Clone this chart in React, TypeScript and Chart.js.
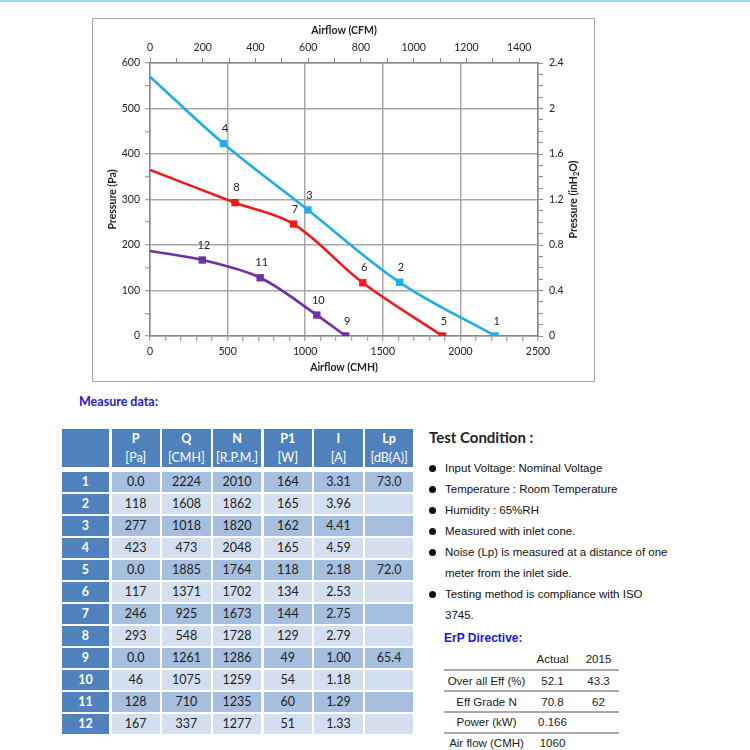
import React, { useEffect, useRef } from 'react';
import { Chart, registerables } from 'chart.js';

Chart.register(...registerables);

// ---------------- Data ----------------
const pointLabels = ['1', '2', '3', '4', '5', '6', '7', '8', '9', '10', '11', '12'];
const pressurePa = [0, 118, 277, 423, 0, 117, 246, 293, 0, 46, 128, 167];
const airflowCMH = [2224, 1608, 1018, 473, 1885, 1371, 925, 548, 1261, 1075, 710, 337];
const speedRPM = [2010, 1862, 1820, 2048, 1764, 1702, 1673, 1728, 1286, 1259, 1235, 1277];
const powerW = [164, 165, 162, 165, 118, 134, 144, 129, 49, 54, 60, 51];
const currentA = ['3.31', '3.96', '4.41', '4.59', '2.18', '2.53', '2.75', '2.79', '1.00', '1.18', '1.29', '1.33'];
const noiseDbA = ['73.0', '', '', '', '72.0', '', '', '', '65.4', '', '', ''];
// pressure where each curve meets zero airflow
const shutoffPa = [570, 365, 187];
const pointsPerSeries = 4;
const seriesColors = ['#1FAEE5', '#EE1B1B', '#7030A0'];

const tableHeads = ['P', 'Q', 'N', 'P1', 'I', 'Lp'];
const tableUnits = ['[Pa]', '[CMH]', '[R.P.M.]', '[W]', '[A]', '[dB(A)]'];

const testConditions = [
  ['Input Voltage: Nominal Voltage'],
  ['Temperature : Room Temperature'],
  ['Humidity : 65%RH'],
  ['Measured with inlet cone.'],
  ['Noise (Lp) is measured at a distance of one', 'meter from the inlet side.'],
  ['Testing method is compliance with ISO', '3745.'],
];

const erpHeads = ['Actual', '2015'];
const erpLabels = ['Over all Eff (%)', 'Eff Grade N', 'Power (kW)', 'Air flow (CMH)'];
const erpActual = ['52.1', '70.8', '0.166', '1060'];
const erp2015 = ['43.3', '62', '', ''];

const CMH_PER_CFM = 1.699;
const CMH_MAX = 2500;
const PA_MAX = 600;
const INH2O_MAX = 2.4;

// ---------------- Styles ----------------
const CHART_FONT = 'Lato, "Noto Sans", sans-serif';
const AXIS_COLOR = '#8a8a8a';
const GRID_COLOR = '#a8a8a8';
const TEXT_COLOR = '#222222';
const HEAD_BG = '#4F81BD';
const ROW_DARK = '#A7BFDE';
const ROW_LIGHT = '#D3DFEE';

const fmtPa = (p: number) => (p === 0 ? '0.0' : String(p));

function PQChart() {
  const ref = useRef<HTMLCanvasElement>(null);
  useEffect(() => {
    const canvas = ref.current;
    if (!canvas) return;
    const nSeries = shutoffPa.length;
    const datasets: any[] = [];
    const seriesPts: { x: number; y: number }[][] = [];
    for (let s = 0; s < nSeries; s++) {
      const pts: { x: number; y: number }[] = [];
      for (let k = 0; k < pointsPerSeries; k++) {
        const i = s * pointsPerSeries + k;
        pts.push({ x: airflowCMH[i], y: pressurePa[i] });
      }
      seriesPts.push(pts);
      datasets.push({
        label: 'points' + s,
        data: pts,
        showLine: false,
        pointStyle: 'rect',
        pointRadius: 5.2,
        pointHoverRadius: 5.2,
        pointBorderWidth: 0,
        backgroundColor: seriesColors[s],
        borderColor: seriesColors[s],
        order: 0,
      });
    }
    for (let s = 0; s < nSeries; s++) {
      const curve = [{ x: 0, y: shutoffPa[s] }, ...seriesPts[s]].sort((a, b) => a.x - b.x);
      datasets.push({
        label: 'curve' + s,
        data: curve,
        showLine: true,
        pointRadius: 0,
        pointHoverRadius: 0,
        borderColor: seriesColors[s],
        backgroundColor: seriesColors[s],
        borderWidth: 2.6,
        tension: 0.35,
        fill: false,
        order: 1,
      });
    }

    const tickFont = { family: CHART_FONT, size: 10.5 };
    const titleFont = { family: CHART_FONT, size: 10.5, weight: 'bold' as const };
    const clear = 'rgba(0,0,0,0)';

    const labelPlugin = {
      id: 'pointNumbersAndRightTitle',
      afterDatasetsDraw(chart: any) {
        const ctx = chart.ctx;
        ctx.save();
        ctx.font = `11px ${CHART_FONT}`;
        ctx.fillStyle = TEXT_COLOR;
        ctx.textAlign = 'center';
        ctx.textBaseline = 'middle';
        for (let s = 0; s < nSeries; s++) {
          const meta = chart.getDatasetMeta(s);
          meta.data.forEach((el: any, k: number) => {
            ctx.fillText(pointLabels[s * pointsPerSeries + k], el.x + 1.5, el.y - 15);
          });
        }
        ctx.restore();
      },
      afterDraw(chart: any) {
        const ctx = chart.ctx;
        const area = chart.chartArea;
        const y2 = chart.scales.y2;
        const cx = y2.right - 20;
        const cy = (area.top + area.bottom) / 2;
        const parts = [
          { t: 'Pressure (inH', size: 10.5, dy: 0 },
          { t: '2', size: 7.5, dy: 3 },
          { t: 'O)', size: 10.5, dy: 0 },
        ];
        ctx.save();
        ctx.translate(cx, cy);
        ctx.rotate(-Math.PI / 2);
        ctx.fillStyle = TEXT_COLOR;
        ctx.textBaseline = 'middle';
        ctx.textAlign = 'left';
        let total = 0;
        for (const p of parts) {
          ctx.font = `bold ${p.size}px ${CHART_FONT}`;
          total += ctx.measureText(p.t).width;
        }
        let x = -total / 2;
        for (const p of parts) {
          ctx.font = `bold ${p.size}px ${CHART_FONT}`;
          ctx.fillText(p.t, x, p.dy);
          x += ctx.measureText(p.t).width;
        }
        ctx.restore();
      },
    };

    const chart = new Chart(canvas, {
      type: 'scatter',
      data: { datasets },
      plugins: [labelPlugin],
      options: {
        animation: false,
        responsive: false,
        maintainAspectRatio: false,
        events: [],
        layout: { padding: 0 },
        plugins: { legend: { display: false }, tooltip: { enabled: false } },
        scales: {
          x: {
            type: 'linear',
            position: 'bottom',
            min: 0,
            max: CMH_MAX,
            afterFit: (s: any) => { s.height = 45; },
            ticks: {
              stepSize: 100,
              autoSkip: false,
              maxRotation: 0,
              padding: 4,
              font: tickFont,
              color: TEXT_COLOR,
              callback: (v: any) => (Math.round(v) % 500 === 0 ? String(v) : ''),
            },
            grid: {
              color: (c: any) => (c.tick && Math.round(c.tick.value) % 500 === 0 ? GRID_COLOR : clear),
              lineWidth: 1.5,
              tickColor: AXIS_COLOR,
              tickWidth: 1,
              tickLength: 5,
            },
            border: { color: AXIS_COLOR, width: 1.5 },
            title: { display: true, text: 'Airflow (CMH)', font: titleFont, color: TEXT_COLOR, padding: { top: 0, bottom: 7 } },
          },
          x2: {
            type: 'linear',
            position: 'top',
            min: 0,
            max: CMH_MAX / CMH_PER_CFM,
            afterFit: (s: any) => { s.height = 44; },
            ticks: {
              stepSize: 100,
              autoSkip: false,
              includeBounds: false,
              maxRotation: 0,
              padding: 4,
              font: tickFont,
              color: TEXT_COLOR,
              callback: (v: any) => (Math.round(v) % 200 === 0 ? String(Math.round(v)) : ''),
            },
            grid: { drawOnChartArea: false, tickColor: AXIS_COLOR, tickWidth: 1, tickLength: 5 },
            border: { color: AXIS_COLOR, width: 1.5 },
            title: { display: true, text: 'Airflow (CFM)', font: titleFont, color: TEXT_COLOR, padding: { top: 5, bottom: 0 } },
          },
          y: {
            type: 'linear',
            position: 'left',
            min: 0,
            max: PA_MAX,
            afterFit: (s: any) => { s.width = 57; },
            ticks: {
              stepSize: 50,
              autoSkip: false,
              padding: 5,
              font: tickFont,
              color: TEXT_COLOR,
              callback: (v: any) => (Math.round(v) % 100 === 0 ? String(v) : ''),
            },
            grid: {
              color: (c: any) => (c.tick && Math.round(c.tick.value) % 100 === 0 ? GRID_COLOR : clear),
              lineWidth: 1.5,
              tickColor: AXIS_COLOR,
              tickWidth: 1,
              tickLength: 5,
            },
            border: { color: AXIS_COLOR, width: 1.5 },
            title: { display: true, text: 'Pressure (Pa)', font: titleFont, color: TEXT_COLOR, padding: { top: 13, bottom: 0 } },
          },
          y2: {
            type: 'linear',
            position: 'right',
            min: 0,
            max: INH2O_MAX,
            afterFit: (s: any) => { s.width = 56; },
            ticks: {
              stepSize: 0.1,
              autoSkip: false,
              padding: 6,
              font: tickFont,
              color: TEXT_COLOR,
              callback: (v: any) => {
                const r = Math.round(v * 10);
                return r % 4 === 0 ? String(r / 10) : '';
              },
            },
            grid: { drawOnChartArea: false, tickColor: AXIS_COLOR, tickWidth: 1, tickLength: 5 },
            border: { color: AXIS_COLOR, width: 1.5 },
            title: { display: false },
          },
        },
      } as any,
    });
    return () => chart.destroy();
  }, []);

  return (
    <>
      <div
        style={{
          position: 'absolute',
          left: 92,
          top: 18,
          width: 503,
          height: 364,
          border: '1px solid #a4a4a4',
          boxSizing: 'border-box',
        }}
      />
      <canvas
        ref={ref}
        width={501}
        height={362}
        style={{ position: 'absolute', left: 93, top: 19, width: 501, height: 362, display: 'block' }}
      />
    </>
  );
}

function MeasureTable() {
  const cols = '47.5px repeat(6, 48.3px)';
  const gap = 2.4;
  const cellBase: React.CSSProperties = {
    display: 'flex',
    alignItems: 'center',
    justifyContent: 'center',
    fontFamily: CHART_FONT,
    fontSize: 12.5,
  };
  const rows: string[][] = pointLabels.map((_, i) => [
    fmtPa(pressurePa[i]),
    String(airflowCMH[i]),
    String(speedRPM[i]),
    String(powerW[i]),
    currentA[i],
    noiseDbA[i],
  ]);
  return (
    <>
      <div
        style={{
          position: 'absolute',
          left: 61.7,
          top: 429,
          display: 'grid',
          gridTemplateColumns: cols,
          gridTemplateRows: '38px',
          columnGap: gap,
        }}
      >
        <div style={{ ...cellBase, background: HEAD_BG }} />
        {tableHeads.map((h, j) => (
          <div
            key={h}
            style={{
              ...cellBase,
              background: HEAD_BG,
              color: '#fff',
              flexDirection: 'column',
              lineHeight: '19.5px',
            }}
          >
            <span style={{ fontWeight: 700 }}>{h}</span>
            <span>{tableUnits[j]}</span>
          </div>
        ))}
      </div>
      <div
        style={{
          position: 'absolute',
          left: 61.7,
          top: 471.5,
          display: 'grid',
          gridTemplateColumns: cols,
          gridAutoRows: '20px',
          columnGap: gap,
          rowGap: 2,
        }}
      >
        {rows.map((r, i) => (
          <React.Fragment key={i}>
            <div style={{ ...cellBase, background: HEAD_BG, color: '#fff', fontWeight: 700 }}>{pointLabels[i]}</div>
            {r.map((v, j) => (
              <div key={j} style={{ ...cellBase, background: i % 2 === 0 ? ROW_DARK : ROW_LIGHT, color: '#1e1e1e' }}>
                {v}
              </div>
            ))}
          </React.Fragment>
        ))}
      </div>
    </>
  );
}

function TestConditions() {
  const lines: { text: string; bullet: boolean }[] = [];
  testConditions.forEach((item) => item.forEach((t, k) => lines.push({ text: t, bullet: k === 0 })));
  return (
    <>
      <div
        style={{
          position: 'absolute',
          left: 429,
          top: 427,
          fontFamily: CHART_FONT,
          fontWeight: 700,
          fontSize: 15,
          lineHeight: '20px',
          color: '#222',
          whiteSpace: 'nowrap',
        }}
      >
        Test Condition :
      </div>
      {lines.map((l, i) => (
        <div
          key={i}
          style={{
            position: 'absolute',
            left: 445,
            top: 457.5 + i * 21.05,
            height: 21,
            lineHeight: '21px',
            fontFamily: '"Liberation Sans", Arial, sans-serif',
            fontSize: 11.5,
            color: '#111',
            whiteSpace: 'nowrap',
          }}
        >
          {l.bullet && (
            <span
              style={{
                position: 'absolute',
                left: -15.8,
                top: 7,
                width: 7,
                height: 7,
                borderRadius: '50%',
                background: '#111',
              }}
            />
          )}
          {l.text}
        </div>
      ))}
    </>
  );
}

function ErpTable() {
  const font: React.CSSProperties = {
    fontFamily: '"Liberation Sans", Arial, sans-serif',
    fontSize: 11.5,
    color: '#222',
    whiteSpace: 'nowrap',
  };
  const colCenters = [486.5, 552.5, 598.5];
  const rowCenters = [681, 701.7, 722, 743];
  const lineYs = [670, 690.7, 711.7, 733.3];
  const cell = (text: string, cx: number, cy: number, key: string) => (
    <div
      key={key}
      style={{
        ...font,
        position: 'absolute',
        left: cx - 60,
        width: 120,
        top: cy - 8,
        height: 16,
        lineHeight: '16px',
        textAlign: 'center',
      }}
    >
      {text}
    </div>
  );
  return (
    <>
      <div
        style={{
          ...font,
          position: 'absolute',
          left: 444,
          top: 630,
          lineHeight: '16px',
          fontWeight: 700,
          fontSize: 12,
          color: '#1a1ad0',
        }}
      >
        ErP Directive:
      </div>
      {erpHeads.map((h, j) => cell(h, colCenters[j + 1], 659, 'h' + j))}
      {lineYs.map((y, i) => (
        <div
          key={'l' + i}
          style={{ position: 'absolute', left: 444, width: 175, top: y - 1, height: 2, background: '#a9a9a9' }}
        />
      ))}
      {erpLabels.map((lab, i) => (
        <React.Fragment key={'r' + i}>
          {cell(lab, colCenters[0], rowCenters[i], 'a' + i)}
          {cell(erpActual[i], colCenters[1], rowCenters[i], 'b' + i)}
          {cell(erp2015[i], colCenters[2], rowCenters[i], 'c' + i)}
        </React.Fragment>
      ))}
    </>
  );
}

export default function App() {
  return (
    <div
      style={{
        position: 'absolute',
        left: 0,
        top: 0,
        width: 750,
        height: 750,
        background: '#fff',
        overflow: 'hidden',
      }}
    >
      <div style={{ position: 'absolute', left: 0, top: 0, width: 750, height: 2, background: '#a9d7e2' }} />
      <PQChart />
      <div
        style={{
          position: 'absolute',
          left: 79,
          top: 394,
          fontFamily: CHART_FONT,
          fontWeight: 700,
          fontSize: 12.5,
          lineHeight: '16px',
          color: '#1a1ad0',
          whiteSpace: 'nowrap',
        }}
      >
        Measure data:
      </div>
      <MeasureTable />
      <TestConditions />
      <ErpTable />
    </div>
  );
}
